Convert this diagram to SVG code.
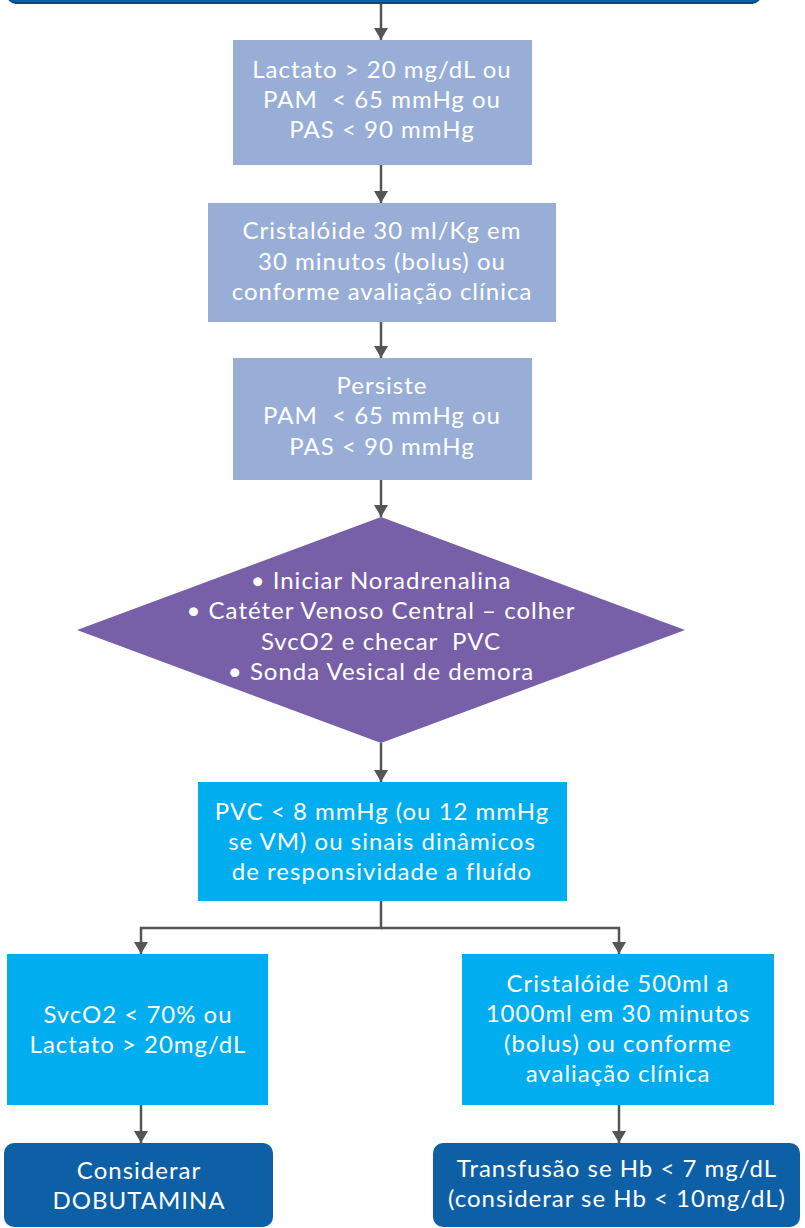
<svg xmlns="http://www.w3.org/2000/svg" width="805" height="1228" viewBox="0 0 805 1228">
<style>
.t{font-family:Lato,"Open Sans","Liberation Sans",sans-serif;font-size:24px;letter-spacing:1px;fill:#ffffff;text-anchor:middle;white-space:pre}
.lav{fill:#98aed6}
.cy{fill:#00aeef}
.dk{fill:#0d5fa6}
.c{fill:none;stroke:#555555;stroke-width:2.5;marker-end:url(#ah)}
</style>
<defs>
<marker id="ah" viewBox="0 0 12 14" refX="12" refY="7" markerWidth="12" markerHeight="14" markerUnits="userSpaceOnUse" orient="auto">
<path d="M0,0 L12,7 L0,14 z" fill="#555555"/>
</marker>
</defs>
<rect width="805" height="1228" fill="#ffffff"/>
<g id="connectors">
<path class="c" d="M381,3 V40"/>
<path class="c" d="M381,165 V203"/>
<path class="c" d="M381,322 V358"/>
<path class="c" d="M381,480 V517"/>
<path class="c" d="M381,743 V782"/>
<path class="c" d="M381,901 V928 H141 V954"/>
<path class="c" d="M381,928 H619 V954"/>
<path class="c" d="M141,1105 V1143"/>
<path class="c" d="M619,1105 V1143"/>
</g>
<g id="top">
<rect x="8" y="-30" width="752" height="33" rx="8" fill="#0d5fa6" stroke="#0a4a82" stroke-width="2"/>
</g>
<g id="lactato">
<rect class="lav" x="233" y="40" width="299" height="125"/>
<text class="t"><tspan x="382" y="78">Lactato &gt; 20 mg/dL ou</tspan><tspan x="382" y="108">PAM  &lt; 65 mmHg ou</tspan><tspan x="382" y="138">PAS &lt; 90 mmHg</tspan></text>
</g>
<g id="cristaloide30">
<rect class="lav" x="208" y="203" width="348" height="119"/>
<text class="t"><tspan x="382" y="239">Cristalóide 30 ml/Kg em</tspan><tspan x="382" y="270">30 minutos (bolus) ou</tspan><tspan x="382" y="300">conforme avaliação clínica</tspan></text>
</g>
<g id="persiste">
<rect class="lav" x="233" y="358" width="299" height="122"/>
<text class="t"><tspan x="382" y="394">Persiste</tspan><tspan x="382" y="424">PAM  &lt; 65 mmHg ou</tspan><tspan x="382" y="455">PAS &lt; 90 mmHg</tspan></text>
</g>
<g id="noradrenalina">
<polygon points="381,517 685,630 381,743 77,630" fill="#7760a8"/>
<text class="t"><tspan x="381" y="589">• Iniciar Noradrenalina</tspan><tspan x="381" y="619">• Catéter Venoso Central – colher</tspan><tspan x="381" y="650">SvcO2 e checar  PVC</tspan><tspan x="381" y="680">• Sonda Vesical de demora</tspan></text>
</g>
<g id="pvc">
<rect class="cy" x="198" y="782" width="369" height="119"/>
<text class="t"><tspan x="382" y="820">PVC &lt; 8 mmHg (ou 12 mmHg</tspan><tspan x="382" y="850">se VM) ou sinais dinâmicos</tspan><tspan x="382" y="880">de responsividade a fluído</tspan></text>
</g>
<g id="svco2">
<rect class="cy" x="7" y="954" width="261" height="151"/>
<text class="t"><tspan x="138" y="1023">SvcO2 &lt; 70% ou</tspan><tspan x="138" y="1053">Lactato &gt; 20mg/dL</tspan></text>
</g>
<g id="cristaloide500">
<rect class="cy" x="462" y="954" width="312" height="151"/>
<text class="t"><tspan x="618" y="992">Cristalóide 500ml a</tspan><tspan x="618" y="1022">1000ml em 30 minutos</tspan><tspan x="618" y="1052">(bolus) ou conforme</tspan><tspan x="618" y="1082">avaliação clínica</tspan></text>
</g>
<g id="dobutamina">
<rect class="dk" x="4" y="1143" width="269" height="84" rx="10"/>
<text class="t"><tspan x="139" y="1179">Considerar</tspan><tspan x="139" y="1209">DOBUTAMINA</tspan></text>
</g>
<g id="transfusao">
<rect class="dk" x="433" y="1143" width="367" height="84" rx="10"/>
<text class="t"><tspan x="617" y="1177">Transfusão se Hb &lt; 7 mg/dL</tspan><tspan x="617" y="1207">(considerar se Hb &lt; 10mg/dL)</tspan></text>
</g>
</svg>
